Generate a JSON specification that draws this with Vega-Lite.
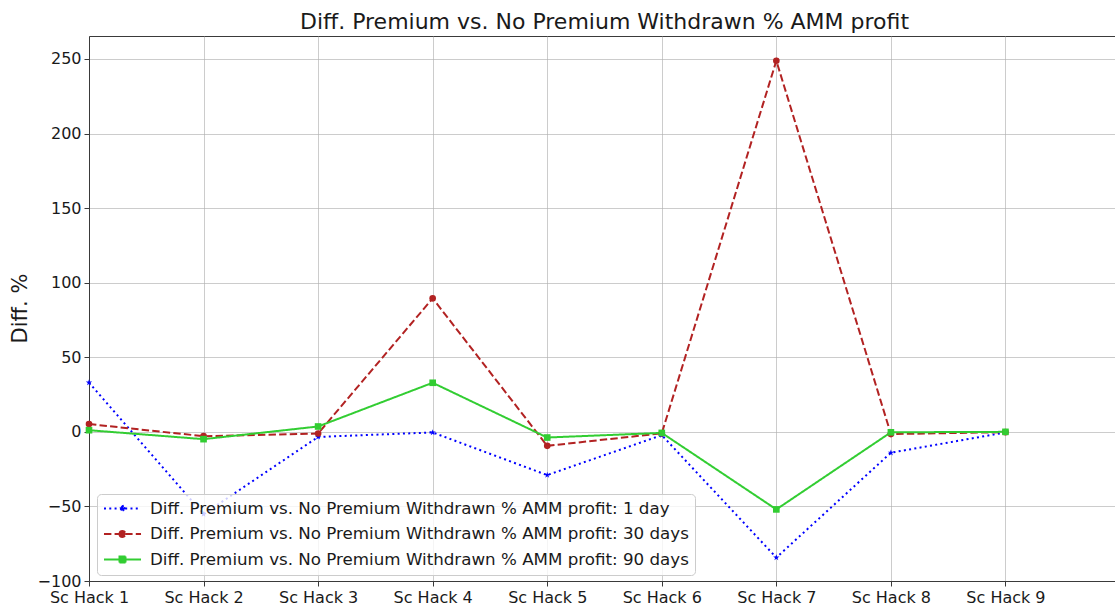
{
  "$schema": "https://vega.github.io/schema/vega-lite/v6.json",
  "width": 1031,
  "height": 545,
  "autosize": {"type": "none"},
  "padding": {"left": 89, "top": 36, "right": 0, "bottom": 26},
  "background": "white",
  "config": {
    "font": "DejaVu Sans",
    "view": {"stroke": "#3a3a3a", "strokeWidth": 1},
    "axis": {
      "labelFont": "DejaVu Sans",
      "labelFontSize": 16,
      "labelColor": "#1a1a1a",
      "domainColor": "#3a3a3a",
      "domainWidth": 1,
      "tickColor": "#3a3a3a",
      "tickSize": 5,
      "tickWidth": 1,
      "gridColor": "#b0b0b0",
      "gridOpacity": 0.65,
      "gridWidth": 1,
      "labelPadding": 3,
      "titleFont": "DejaVu Sans",
      "titleFontWeight": "normal",
      "titleColor": "#1a1a1a"
    }
  },
  "title": {
    "text": "Diff. Premium vs. No Premium Withdrawn % AMM profit",
    "fontSize": 22,
    "fontWeight": "normal",
    "font": "DejaVu Sans",
    "color": "#1a1a1a",
    "anchor": "middle",
    "offset": 2
  },
  "data": {
    "values": [
      {"idx": 0, "hack": "Sc Hack 1", "period": "1 day", "series": "Diff. Premium vs. No Premium Withdrawn % AMM profit: 1 day", "value": 33.0},
      {"idx": 1, "hack": "Sc Hack 2", "period": "1 day", "series": "Diff. Premium vs. No Premium Withdrawn % AMM profit: 1 day", "value": -55.2},
      {"idx": 2, "hack": "Sc Hack 3", "period": "1 day", "series": "Diff. Premium vs. No Premium Withdrawn % AMM profit: 1 day", "value": -3.4},
      {"idx": 3, "hack": "Sc Hack 4", "period": "1 day", "series": "Diff. Premium vs. No Premium Withdrawn % AMM profit: 1 day", "value": -0.4},
      {"idx": 4, "hack": "Sc Hack 5", "period": "1 day", "series": "Diff. Premium vs. No Premium Withdrawn % AMM profit: 1 day", "value": -29.0},
      {"idx": 5, "hack": "Sc Hack 6", "period": "1 day", "series": "Diff. Premium vs. No Premium Withdrawn % AMM profit: 1 day", "value": -2.2},
      {"idx": 6, "hack": "Sc Hack 7", "period": "1 day", "series": "Diff. Premium vs. No Premium Withdrawn % AMM profit: 1 day", "value": -84.3},
      {"idx": 7, "hack": "Sc Hack 8", "period": "1 day", "series": "Diff. Premium vs. No Premium Withdrawn % AMM profit: 1 day", "value": -14.0},
      {"idx": 8, "hack": "Sc Hack 9", "period": "1 day", "series": "Diff. Premium vs. No Premium Withdrawn % AMM profit: 1 day", "value": -0.4},
      {"idx": 0, "hack": "Sc Hack 1", "period": "30 days", "series": "Diff. Premium vs. No Premium Withdrawn % AMM profit: 30 days", "value": 5.2},
      {"idx": 1, "hack": "Sc Hack 2", "period": "30 days", "series": "Diff. Premium vs. No Premium Withdrawn % AMM profit: 30 days", "value": -2.9},
      {"idx": 2, "hack": "Sc Hack 3", "period": "30 days", "series": "Diff. Premium vs. No Premium Withdrawn % AMM profit: 30 days", "value": -1.1},
      {"idx": 3, "hack": "Sc Hack 4", "period": "30 days", "series": "Diff. Premium vs. No Premium Withdrawn % AMM profit: 30 days", "value": 89.5},
      {"idx": 4, "hack": "Sc Hack 5", "period": "30 days", "series": "Diff. Premium vs. No Premium Withdrawn % AMM profit: 30 days", "value": -9.4},
      {"idx": 5, "hack": "Sc Hack 6", "period": "30 days", "series": "Diff. Premium vs. No Premium Withdrawn % AMM profit: 30 days", "value": -1.0},
      {"idx": 6, "hack": "Sc Hack 7", "period": "30 days", "series": "Diff. Premium vs. No Premium Withdrawn % AMM profit: 30 days", "value": 248.8},
      {"idx": 7, "hack": "Sc Hack 8", "period": "30 days", "series": "Diff. Premium vs. No Premium Withdrawn % AMM profit: 30 days", "value": -1.5},
      {"idx": 8, "hack": "Sc Hack 9", "period": "30 days", "series": "Diff. Premium vs. No Premium Withdrawn % AMM profit: 30 days", "value": -0.2},
      {"idx": 0, "hack": "Sc Hack 1", "period": "90 days", "series": "Diff. Premium vs. No Premium Withdrawn % AMM profit: 90 days", "value": 1.1},
      {"idx": 1, "hack": "Sc Hack 2", "period": "90 days", "series": "Diff. Premium vs. No Premium Withdrawn % AMM profit: 90 days", "value": -4.9},
      {"idx": 2, "hack": "Sc Hack 3", "period": "90 days", "series": "Diff. Premium vs. No Premium Withdrawn % AMM profit: 90 days", "value": 3.6},
      {"idx": 3, "hack": "Sc Hack 4", "period": "90 days", "series": "Diff. Premium vs. No Premium Withdrawn % AMM profit: 90 days", "value": 32.9},
      {"idx": 4, "hack": "Sc Hack 5", "period": "90 days", "series": "Diff. Premium vs. No Premium Withdrawn % AMM profit: 90 days", "value": -3.8},
      {"idx": 5, "hack": "Sc Hack 6", "period": "90 days", "series": "Diff. Premium vs. No Premium Withdrawn % AMM profit: 90 days", "value": -0.7},
      {"idx": 6, "hack": "Sc Hack 7", "period": "90 days", "series": "Diff. Premium vs. No Premium Withdrawn % AMM profit: 90 days", "value": -52.0},
      {"idx": 7, "hack": "Sc Hack 8", "period": "90 days", "series": "Diff. Premium vs. No Premium Withdrawn % AMM profit: 90 days", "value": -0.3},
      {"idx": 8, "hack": "Sc Hack 9", "period": "90 days", "series": "Diff. Premium vs. No Premium Withdrawn % AMM profit: 90 days", "value": 0.0}
    ]
  },
  "encoding": {
    "x": {
      "field": "idx",
      "type": "quantitative",
      "scale": {"domain": [0, 9], "nice": false, "zero": false},
      "axis": {
        "title": null,
        "values": [0, 1, 2, 3, 4, 5, 6, 7, 8],
        "labelExpr": "'Sc Hack ' + (datum.value + 1)",
        "labelFlush": false,
        "labelOverlap": false
      }
    },
    "y": {
      "field": "value",
      "type": "quantitative",
      "scale": {"domain": [-100, 265.4], "nice": false, "zero": false},
      "axis": {
        "title": "Diff. %",
        "titleFontSize": 21,
        "titleX": -69,
        "titleY": 272,
        "titleAlign": "center",
        "titleBaseline": "middle",
        "values": [-100, -50, 0, 50, 100, 150, 200, 250],
        "labelExpr": "replace(datum.label, '-', '\u2212')",
        "format": "d",
        "labelFlush": false,
        "labelOverlap": false
      }
    }
  },
  "layer": [
    {
      "mark": {"type": "line", "strokeWidth": 2},
      "encoding": {
        "color": {
          "field": "series",
          "type": "nominal",
          "scale": {
            "domain": [
              "Diff. Premium vs. No Premium Withdrawn % AMM profit: 1 day",
              "Diff. Premium vs. No Premium Withdrawn % AMM profit: 30 days",
              "Diff. Premium vs. No Premium Withdrawn % AMM profit: 90 days"
            ],
            "range": ["#0000ff", "#b22222", "#32cd32"]
          },
          "legend": {
            "title": null,
            "orient": "none",
            "legendX": 8,
            "legendY": 458,
            "fillColor": "rgba(255,255,255,0.8)",
            "strokeColor": "#cccccc",
            "cornerRadius": 4,
            "padding": 6,
            "labelFontSize": 16.7,
            "labelFont": "DejaVu Sans",
            "labelColor": "#1a1a1a",
            "labelLimit": 0,
            "symbolSize": 225,
            "symbolStrokeWidth": 2,
            "rowPadding": 7.5,
            "symbolOffset": 11,
            "labelOffset": 19,
            "encode": {
              "symbols": {
                "update": {
                  "shape": {"signal": "['M-2.47,0H2.47M0,-0.45L0.101,-0.139L0.428,-0.139L0.163,0.053L0.265,0.364L0,0.172L-0.265,0.364L-0.163,0.053L-0.428,-0.139L-0.101,-0.139Z', 'M-2.47,0H2.47M-0.4,0A0.4,0.4 0 1,0 0.4,0A0.4,0.4 0 1,0 -0.4,0Z', 'M-2.47,0H2.47M-0.4,-0.4H0.4V0.4H-0.4Z'][datum.index]"},
                  "size": {"value": 225},
                  "fill": {"scale": "color", "field": "value"},
                  "stroke": {"scale": "color", "field": "value"},
                  "strokeWidth": {"value": 2},
                  "opacity": {"value": 1}
                }
              }
            }
          }
        },
        "strokeDash": {
          "field": "series",
          "type": "nominal",
          "scale": {
            "domain": [
              "Diff. Premium vs. No Premium Withdrawn % AMM profit: 1 day",
              "Diff. Premium vs. No Premium Withdrawn % AMM profit: 30 days",
              "Diff. Premium vs. No Premium Withdrawn % AMM profit: 90 days"
            ],
            "range": [[2, 3.3], [7.4, 3.2], [1, 0]]
          }
        }
      }
    },
    {
      "mark": {"type": "point", "filled": true, "size": 44, "opacity": 1},
      "encoding": {
        "color": {"field": "series", "type": "nominal", "legend": null},
        "shape": {
          "field": "period",
          "type": "nominal",
          "legend": null,
          "scale": {
            "domain": ["1 day", "30 days", "90 days"],
            "range": [
              "M0,-1L0.225,-0.309L0.951,-0.309L0.363,0.118L0.588,0.809L0,0.382L-0.588,0.809L-0.363,0.118L-0.951,-0.309L-0.225,-0.309Z",
              "circle",
              "square"
            ]
          }
        }
      }
    }
  ]
}
